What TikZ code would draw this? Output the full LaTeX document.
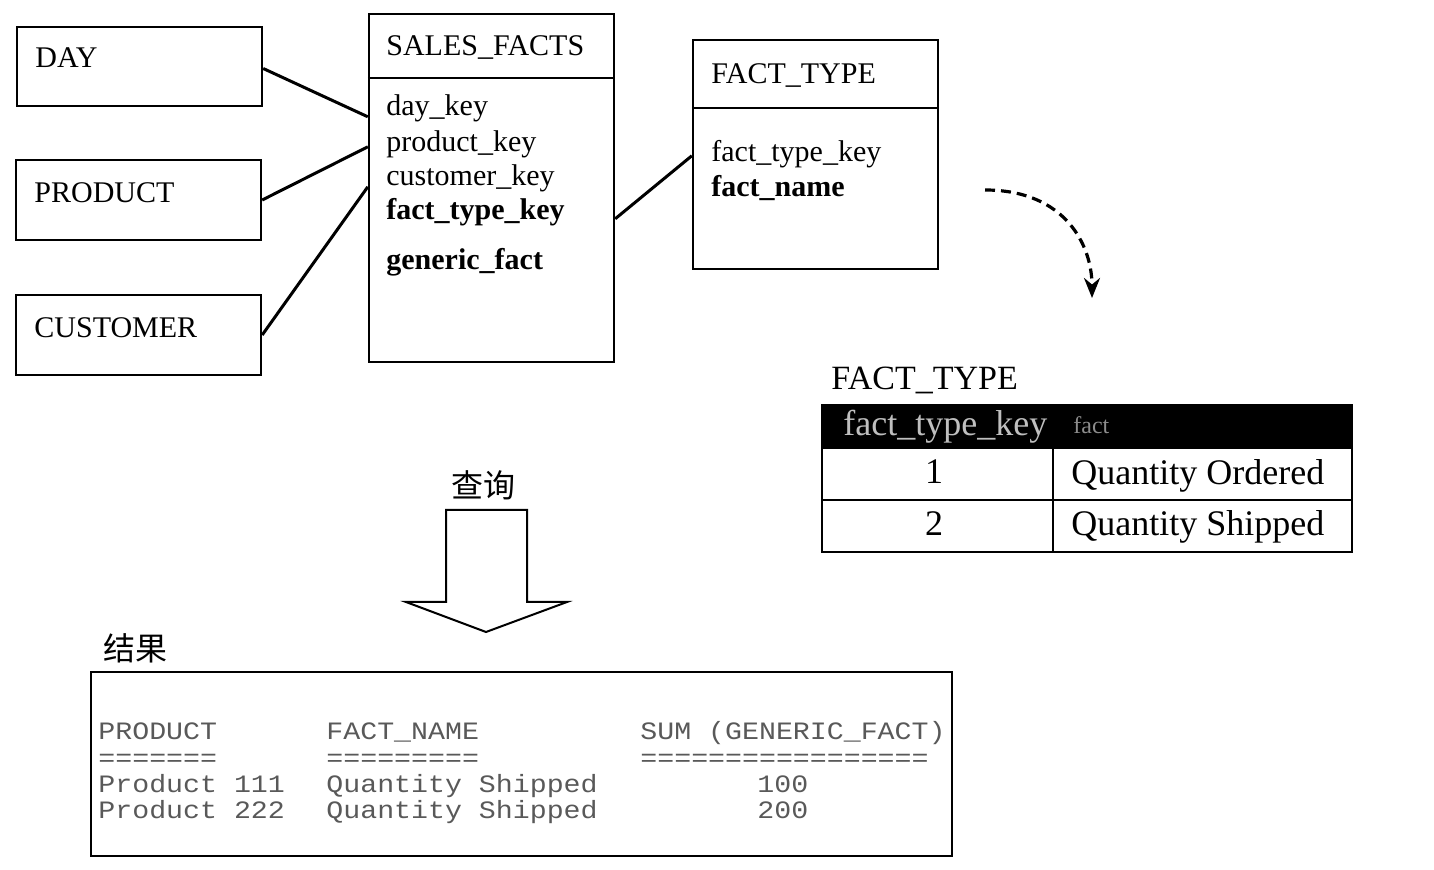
\documentclass[tikz,border=0pt]{standalone}
\usepackage{fontspec}
\setmainfont{Liberation Serif}
\newfontfamily\cjk{Noto Sans CJK SC}
\newfontfamily\mono[FakeStretch=1.13]{Liberation Mono}
\usetikzlibrary{arrows.meta}
\tikzset{
  ent/.style={draw, line width=1.2pt, minimum width=122.5pt, inner sep=0pt},
  lbl/.style={anchor=base west, inner sep=0pt, font=\fontsize{15}{18}\selectfont},
  blbl/.style={lbl, font=\fontsize{15}{18}\selectfont\bfseries},
  link/.style={line width=1.5pt},
  tbl/.style={anchor=base west, inner sep=0pt, font=\fontsize{18}{21}\selectfont},
  mtxt/.style={anchor=base west, inner sep=0pt, text=black!65, font=\mono\fontsize{12.5}{14}\selectfont},
  cjktxt/.style={inner sep=0pt, font=\cjk\fontsize{16}{18}\selectfont}
}
\begin{document}
\begin{tikzpicture}[x=0.5pt,y=-0.5pt]
\useasboundingbox (0,0) rectangle (1434,870);

% dimension boxes
\node[ent, minimum height=39.5pt] (day) at (139.5,66.5) {};
\node[ent, minimum height=40pt] (product) at (138.5,200) {};
\node[ent, minimum height=40pt] (customer) at (138.5,335) {};
\node[lbl] (dayt) at (35,68) {DAY};
\node[lbl] (prodt) at (34,203) {PRODUCT};
\node[lbl] (custt) at (34,338) {CUSTOMER};

% SALES_FACTS
\node[ent, minimum height=174pt] (sales) at (491.5,188) {};
\draw[line width=1.2pt] (sales.west |- 0,78) coordinate (sdl) -- (sales.east |- 0,78) coordinate (sdr);
\node[lbl] (st) at (386,56) {SALES\_FACTS};
\node[lbl] (s1) at (386,116) {day\_key};
\node[lbl] (s2) at (386,152) {product\_key};
\node[lbl] (s3) at (386,186) {customer\_key};
\node[blbl] (s4) at (386,220) {fact\_type\_key};
\node[blbl] (s5) at (386,270) {generic\_fact};

% FACT_TYPE entity
\node[ent, minimum height=114.5pt] (ft) at (815.5,154.5) {};
\draw[line width=1.2pt] (ft.west |- 0,108) coordinate (fdl) -- (ft.east |- 0,108) coordinate (fdr);
\node[lbl] (ftt) at (711,84) {FACT\_TYPE};
\node[lbl] (f1) at (711,162) {fact\_type\_key};
\node[blbl] (f2) at (711,197) {fact\_name};

% connectors
\coordinate (c1) at ([yshift=-52pt]sales.north west);
\coordinate (c2) at ([yshift=-67pt]sales.north west);
\coordinate (c3) at ([yshift=-87pt]sales.north west);
\coordinate (c4) at ([yshift=-103pt]sales.north east);
\coordinate (c5) at ([yshift=-58.5pt]ft.north west);
\draw[link] ([yshift=-1pt]day.east) -- (c1);
\draw[link] (product.east) -- (c2);
\draw[link] (customer.east) -- (c3);
\draw[link] (c4) -- (c5);

% dashed curved arrow
\coordinate (da) at (985,190);
\coordinate (db) at (1092,298);
\draw[line width=1.6pt, dash pattern=on 5pt off 3pt, -{Stealth[length=10pt,width=8pt]}]
  (da) .. controls (1065,190) and (1092,245) .. (db);

% FACT_TYPE table
\node[anchor=base west, inner sep=0pt, font=\fontsize{17}{20}\selectfont] (tt) at (831,390) {FACT\_TYPE};
\node[draw, line width=1pt, minimum width=265pt, minimum height=73.5pt, inner sep=0pt] (table) at (1087,478.5) {};
\fill[black] (table.north west) rectangle (table.east |- 0,448);
\draw[line width=1pt] (table.west |- 0,448) -- (table.east |- 0,448);
\draw[line width=1pt] (table.west |- 0,500) -- (table.east |- 0,500);
\draw[line width=1pt] (1053,448) coordinate (vd1) -- (vd1 |- table.south);
\node[tbl, text=black!25] (h1) at (843,436) {fact\_type\_key};
\node[tbl, text=black!45, font=\fontsize{12}{14}\selectfont] (h2) at (1073,434) {fact};
\node[anchor=base, inner sep=0pt, font=\fontsize{18}{21}\selectfont] (r1a) at (934,484) {1};
\node[tbl] (r1b) at (1071,485) {Quantity Ordered};
\node[anchor=base, inner sep=0pt, font=\fontsize{18}{21}\selectfont] (r2a) at (934,536) {2};
\node[tbl] (r2b) at (1071,536) {Quantity Shipped};

% query block arrow
\node[cjktxt] (q) at (483,485) {查询};
\draw[line width=1pt, fill=white] (446,510) -- (527,510) -- (527,602) -- (567,602) -- (486,632) -- (406,602) -- (446,602) -- cycle;

% result
\node[cjktxt] (res) at (135,648) {结果};
\node[draw, line width=1.2pt, minimum width=430.5pt, minimum height=92pt, inner sep=0pt] (rbox) at (521.5,764) {};
\node[mtxt] (m1) at (98,739) {PRODUCT};
\node[mtxt] (m2) at (326,739) {FACT\_NAME};
\node[mtxt] (m3) at (640,739) {SUM (GENERIC\_FACT)};
\node[mtxt] (e1) at (98,766) {=======};
\node[mtxt] (e2) at (326,766) {=========};
\node[mtxt] (e3) at (640,766) {=================};
\node[mtxt] (p1) at (98,792) {Product 111};
\node[mtxt] (q1) at (326,792) {Quantity Shipped};
\node[mtxt] (v1) at (757,792) {100};
\node[mtxt] (p2) at (98,818) {Product 222};
\node[mtxt] (q2) at (326,818) {Quantity Shipped};
\node[mtxt] (v2) at (757,818) {200};
\end{tikzpicture}
\end{document}
